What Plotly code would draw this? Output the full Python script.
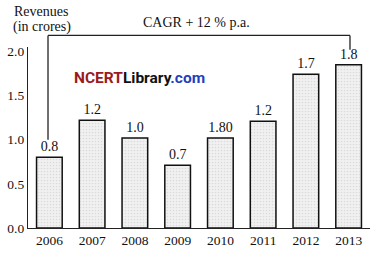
import plotly.graph_objects as go

years = ["2006", "2007", "2008", "2009", "2010", "2011", "2012", "2013"]
revenues = [0.80, 1.22, 1.02, 0.71, 1.02, 1.21, 1.74, 1.85]
bar_labels = ["0.8", "1.2", "1.0", "0.7", "1.80", "1.2", "1.7", "1.8"]
y_ticks = [0.0, 0.5, 1.0, 1.5, 2.0]
y_tick_labels = ["0.0", "0.5", "1.0", "1.5", "2.0"]

serif = "Liberation Serif, Times New Roman, serif"
ymax = 2.05
n = len(years)

fig = go.Figure()
fig.add_trace(go.Bar(
    x=years, y=revenues,
    text=bar_labels, textposition="outside",
    textfont=dict(family=serif, size=14, color="#111"),
    marker=dict(
        color="#eeeeee",
        line=dict(color="#111", width=1.5),
        pattern=dict(shape=".", fgcolor="#c4c4c4", bgcolor="#f1f1f1", size=3, solidity=0.25),
    ),
    cliponaxis=False,
    width=0.6,
))

# CAGR bracket from first bar to last bar (paper coords derived from category index / values)
def px(i):
    return (i + 0.5) / n

top = 1.064
xl = px(0) - 0.004
xr = px(n - 1) + 0.004
left_bottom = (revenues[0] + 0.2) / ymax
right_bottom = (revenues[-1] + 0.17) / ymax
line_style = dict(color="#222", width=1.3)
fig.add_shape(type="line", xref="paper", yref="paper", x0=xl, x1=xl, y0=left_bottom, y1=top, line=line_style)
fig.add_shape(type="line", xref="paper", yref="paper", x0=xl, x1=xr, y0=top, y1=top, line=line_style)
fig.add_shape(type="line", xref="paper", yref="paper", x0=xr, x1=xr, y0=top, y1=right_bottom, line=line_style)

fig.add_annotation(text="CAGR + 12 % p.a.", xref="paper", yref="paper", x=0.493, y=1.133,
                   xanchor="center", yanchor="middle", showarrow=False,
                   font=dict(family=serif, size=14, color="#111"))
fig.add_annotation(text="Revenues", xref="paper", x=-0.045, yref="paper", y=1.197,
                   xanchor="left", yanchor="middle", showarrow=False, borderpad=0,
                   font=dict(family=serif, size=14, color="#111"))
fig.add_annotation(text="(in crores)", xref="paper", x=-0.047, yref="paper", y=1.112,
                   xanchor="left", yanchor="middle", showarrow=False, borderpad=0,
                   font=dict(family=serif, size=14, color="#111"))
fig.add_annotation(
    text="<span style='color:#9b1b1b'>NCERT</span><span style='color:#111'>Library</span><span style='color:#1f3fbf'>.com</span>",
    xref="paper", yref="paper", x=0.13, y=0.83, xanchor="left", yanchor="middle", showarrow=False,
    font=dict(family="Roboto, sans-serif", size=15.5, weight="bold"))

fig.update_layout(
    width=377, height=255,
    margin=dict(l=25, r=7, t=47, b=20),
    paper_bgcolor="white", plot_bgcolor="white",
    showlegend=False, bargap=0.4,
    font=dict(family=serif, size=13, color="#111"),
)
fig.update_xaxes(showline=True, linecolor="#222", linewidth=1.3, ticks="", showgrid=False,
                 tickfont=dict(family=serif, size=13.5, color="#111"), range=[-0.5, 7.5])
fig.update_yaxes(range=[0, ymax], showline=True, linecolor="#222", linewidth=1.3, showgrid=False,
                 zeroline=False, tickvals=y_ticks, ticktext=y_tick_labels, ticks="",
                 tickfont=dict(family=serif, size=13.5, color="#111"))

fig.write_html("out.html")
